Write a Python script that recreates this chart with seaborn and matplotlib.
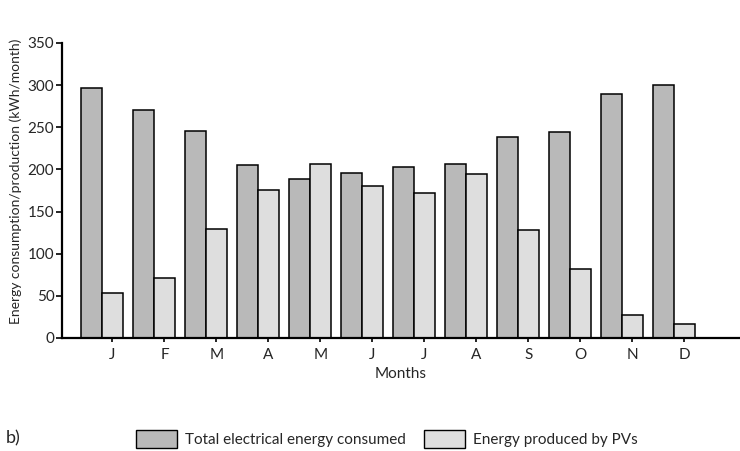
import matplotlib
matplotlib.use("Agg")
import matplotlib.pyplot as plt
from matplotlib.patches import Patch
import seaborn as sns
import pandas as pd

months = ["J", "F", "M", "A", "M", "J", "J", "A", "S", "O", "N", "D"]
consumed = [296, 270, 246, 205, 189, 196, 203, 206, 238, 244, 289, 300]
pv_produced = [53, 71, 129, 175, 207, 180, 172, 194, 128, 82, 27, 17]
series_names = ["Total electrical energy consumed", "Energy produced by PVs"]
y_ticks = [0, 50, 100, 150, 200, 250, 300, 350]

month_ids = list(range(len(months)))
df = pd.DataFrame({
    "month": month_ids * 2,
    "value": consumed + pv_produced,
    "series": [series_names[0]] * len(months) + [series_names[1]] * len(months),
})

sns.set_theme(style="white")
plt.rcParams["font.family"] = ["Lato", "DejaVu Sans"]

colors = {series_names[0]: "#b9b9b9", series_names[1]: "#dedede"}

fig = plt.figure(figsize=(7.4, 4.51), dpi=100)
ax = fig.add_axes([0.0838, 0.2506, 0.9162, 0.6541])

sns.barplot(data=df, x="month", y="value", hue="series", hue_order=series_names,
            palette=colors, order=month_ids, width=0.8, edgecolor="black",
            linewidth=1.1, legend=False, ax=ax)

ax.set_xlim(-0.77, 12.27)
ax.set_ylim(0, 350)
ax.set_yticks(y_ticks)
ax.set_yticklabels([str(v) for v in y_ticks], fontsize=11)
ax.set_xticks([i + 0.2 for i in month_ids])
ax.set_xticklabels(months, fontsize=11)
ax.tick_params(axis="both", direction="out", length=4, width=1.2, color="black",
               bottom=True, left=True)
ax.tick_params(axis="y", pad=1.5)
ax.tick_params(axis="x", length=3, pad=4)

for side in ("top", "right"):
    ax.spines[side].set_visible(False)
for side in ("left", "bottom"):
    ax.spines[side].set_color("black")
    ax.spines[side].set_linewidth(1.6)

ax.set_xlabel("Months", fontsize=11, labelpad=4)
ax.set_ylabel("Energy consumption/production (kWh/month)", fontsize=10)
ax.yaxis.set_label_coords(-0.059, 0.53)

handles = [Patch(facecolor=colors[s], edgecolor="black", linewidth=1.0) for s in series_names]
fig.legend(handles, series_names, loc="center left", bbox_to_anchor=(0.1835, 0.027),
           ncol=2, frameon=False, fontsize=11, handlelength=2.7, handleheight=1.5,
           handletextpad=0.5, columnspacing=1.2, borderaxespad=0, borderpad=0)
fig.text(0.008, 0.027, "b)", fontsize=13, ha="left", va="center")

fig.savefig("out.png", dpi=100)
